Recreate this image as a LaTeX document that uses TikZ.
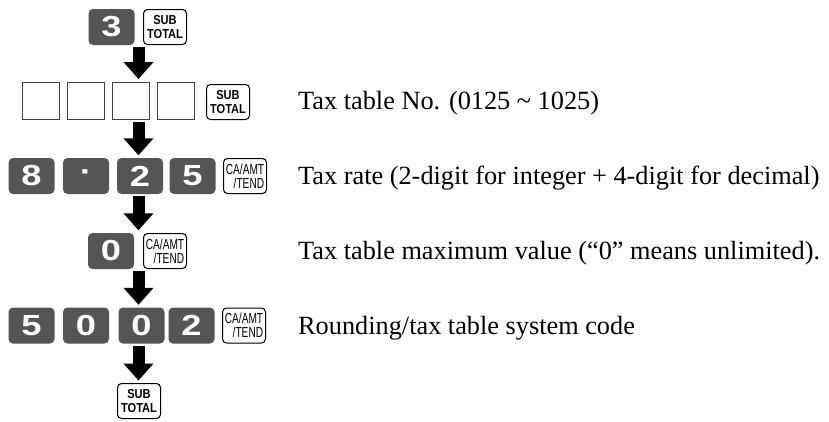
\documentclass[tikz,border=0pt]{standalone}
\usepackage{fontspec}
\setmainfont{Liberation Serif}
\newfontfamily\digitfont[FakeStretch=1.25]{Liberation Sans}
\newfontfamily\keyfont[FakeStretch=0.85]{Liberation Sans}
\newfontfamily\cafont[FakeStretch=0.7]{Liberation Sans}
\usetikzlibrary{arrows.meta}
\definecolor{keygray}{RGB}{85,85,85}
\begin{document}
\begin{tikzpicture}[x=1pt,y=-1pt,
  numkey/.style={fill=keygray, draw=none, rounded corners=4.5pt, minimum width=46pt, minimum height=36pt, inner sep=0pt, text=white, font=\digitfont\bfseries\fontsize{29}{29}\selectfont},
  funckey/.style={draw=black, line width=1pt, fill=white, rounded corners=4pt, minimum width=43pt, minimum height=35pt, inner sep=0pt},
  subkey/.style={funckey, align=center, font=\keyfont\bfseries\fontsize{13}{13.5}\selectfont},
  cakey/.style={funckey, align=right, font=\cafont\fontsize{14.5}{14}\selectfont},
  entrybox/.style={draw=black!75, line width=1pt, minimum size=37pt, inner sep=0pt},
  flow/.style={line width=12pt, -{Triangle[width=29pt,length=17pt]}},
  desc/.style={anchor=base west, inner sep=0pt, font=\fontsize{26.3}{30}\selectfont}
]
\useasboundingbox (0,0) rectangle (829,421);
\coordinate (ax) at (138.5,0);
% row 1
\node[numkey] (r1) at (111.5,27) {3};
\node[subkey] (s1) at (165,27) {SUB\\TOTAL};
% row 2
\node[entrybox] (b1) at (40.5,100.5) {};
\node[entrybox] (b2) at (85.5,100.5) {};
\node[entrybox] (r2) at (130.5,100.5) {};
\node[entrybox] (b4) at (175.5,100.5) {};
\node[subkey] (s2) at (228,102) {SUB\\TOTAL};
\node[desc] (t2) at (298,109) {Tax table No. (0125 \textasciitilde{} 1025)};
% row 3
\node[numkey] (c1) at (31.5,176) {8};
\node[numkey] (c2) at (86,176) {\textperiodcentered};
\node[numkey] (r3) at (140,176) {2};
\node[numkey] (c4) at (192.5,176) {5};
\node[cakey] (ca3) at (245,176) {CA/AMT\\/TEND};
\node[desc] (t3) at (298,184.5) {Tax rate (2-digit for integer + 4-digit for decimal)};
% row 4
\node[numkey] (r4) at (111,251) {0};
\node[cakey] (ca4) at (165,251) {CA/AMT\\/TEND};
\node[desc] (t4) at (298,259.5) {Tax table maximum value (``0'' means unlimited).};
% row 5
\node[numkey] (d1) at (31.5,325.5) {5};
\node[numkey] (d2) at (86,325.5) {0};
\node[numkey] (r5) at (141.5,325.5) {0};
\node[numkey] (d4) at (191.5,325.5) {2};
\node[cakey] (ca5) at (244,325.5) {CA/AMT\\/TEND};
\node[desc] (t5) at (298,334) {Rounding/tax table system code};
% row 6
\node[subkey] (r6) at (139,401) {SUB\\TOTAL};
% arrows
\foreach \a/\b in {r1/r2,r2/r3,r3/r4,r4/r5,r5/r6}{
  \path (\a.south -| ax) ++(0,2) coordinate (\a-out);
  \path (\b.north -| ax) ++(0,-2.5) coordinate (\b-in);
  \draw[flow] (\a-out) -- (\b-in);
}
\end{tikzpicture}
\end{document}
